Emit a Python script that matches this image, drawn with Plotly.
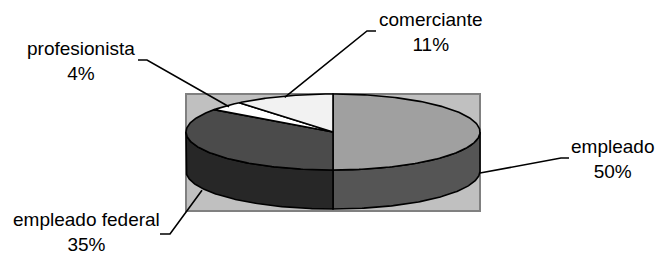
import numpy as np
import plotly.graph_objects as go

# ---- data ----
categories = ["empleado", "empleado federal", "profesionista", "comerciante"]
percentages = [50, 35, 4, 11]

# ---- styles ----
top_colors = ["#A0A0A0", "#4B4B4B", "#FFFFFF", "#F2F2F2"]
side_colors = ["#555555", "#272727", "#DDDDDD", "#DDDDDD"]
FONT = "Liberation Sans, Arial, sans-serif"

# ---- layout geometry (pixel-like axis units) ----
W, H = 655, 255
CX, CY, RX, RY, DEPTH = 333, 132, 147, 38, 39

# label block centres and leader elbow/tick ends (layout positions)
label_xy = [(612, 159), (86, 232), (81, 61), (431, 32)]
leader_elbow = [(561, 158), (170, 234), (147, 60), (367, 31)]
leader_tick = [(569, 158), (160, 234), (138, 60), (376, 31)]


def ell(theta_deg, dy=0.0, scale=1.0):
    t = np.radians(theta_deg)
    return CX + scale * RX * np.sin(t), CY + dy - scale * RY * np.cos(t)


fig = go.Figure()

total = float(sum(percentages))
bounds = []
start = 0.0
for p in percentages:
    end = start + 360.0 * p / total
    bounds.append((start, end))
    start = end

# side faces (front half only: 90..270 deg)
for (t1, t2), col in zip(bounds, side_colors):
    s1, s2 = max(t1, 90.0), min(t2, 270.0)
    if s2 <= s1:
        continue
    th = np.linspace(s1, s2, 120)
    xt, yt = ell(th)
    xb, yb = ell(th[::-1], dy=DEPTH)
    xs = np.concatenate([xt, xb, xt[:1]])
    ys = np.concatenate([yt, yb, yt[:1]])
    fig.add_trace(go.Scatter(x=xs, y=ys, mode="lines", fill="toself",
                             fillcolor=col, line=dict(color="black", width=1.6),
                             hoverinfo="skip", showlegend=False))

# top faces
for (t1, t2), col, name in zip(bounds, top_colors, categories):
    th = np.linspace(t1, t2, 160)
    xa, ya = ell(th)
    xs = np.concatenate([[CX], xa, [CX]])
    ys = np.concatenate([[CY], ya, [CY]])
    fig.add_trace(go.Scatter(x=xs, y=ys, mode="lines", fill="toself",
                             fillcolor=col, line=dict(color="black", width=1.6),
                             hoverinfo="skip", showlegend=False, name=name))

# leader lines and labels
for i, ((t1, t2), name, p) in enumerate(zip(bounds, categories, percentages)):
    mid = (t1 + t2) / 2.0
    if 90.0 <= mid <= 270.0:
        ax, ay = ell(mid, dy=DEPTH + 2)
    else:
        ax, ay = ell(mid, scale=0.97)
    ex, ey = leader_elbow[i]
    tx, ty = leader_tick[i]
    fig.add_trace(go.Scatter(x=[ax, ex, tx], y=[ay, ey, ty], mode="lines",
                             line=dict(color="black", width=1.6),
                             hoverinfo="skip", showlegend=False))
    lx, ly = label_xy[i]
    fig.add_annotation(x=lx, y=ly, xref="x", yref="y",
                       text=f"{name}<br>{p}%", showarrow=False,
                       xanchor="center", yanchor="middle", align="center",
                       font=dict(family=FONT, size=19, color="black"))

# gray plot-area rectangle behind the pie
fig.add_shape(type="rect", xref="x", yref="y", layer="below",
              x0=CX - RX, x1=CX + RX, y0=CY - RY, y1=CY + DEPTH + RY + 2,
              fillcolor="#C0C0C0", line=dict(color="#808080", width=2))

fig.update_layout(
    width=W, height=H,
    margin=dict(l=0, r=0, t=0, b=0),
    paper_bgcolor="white", plot_bgcolor="white",
    xaxis=dict(range=[0, W], visible=False, fixedrange=True),
    yaxis=dict(range=[H, 0], visible=False, fixedrange=True),
)

fig.write_html("out.html", config={"displayModeBar": False},
               post_script="document.body.style.margin='0px';"
                           "document.body.style.overflow='hidden';")
